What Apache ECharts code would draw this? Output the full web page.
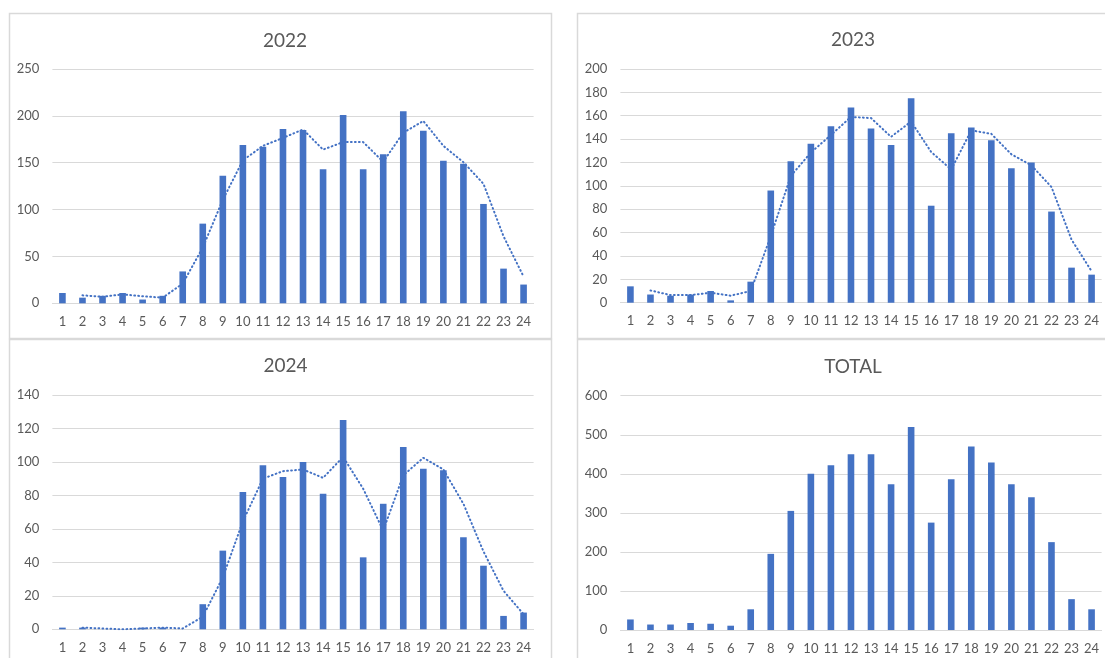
<!DOCTYPE html>
<html>
<head>
<meta charset="utf-8">
<script src="https://cdn.jsdelivr.net/npm/echarts@6/dist/echarts.min.js"></script>
<style>
html,body{margin:0;padding:0;background:#fff;}
#c{width:1105px;height:658px;}
</style>
</head>
<body>
<div id="c"></div>
<script>
const hours = ['1','2','3','4','5','6','7','8','9','10','11','12','13','14','15','16','17','18','19','20','21','22','23','24'];

const bars2022 = [11,6,8,11,4,8,34,85,136,169,167,186,185,143,201,143,159,205,184,152,149,106,37,20];
const trend2022 = [null,8.5,7,9.5,7.5,6,21,59.5,110.5,152.5,168,176.5,185.5,164,172,172,151,182,194.5,168,150.5,127.5,71.5,28.5];

const bars2023 = [14,7,6,7,10,2,18,96,121,136,151,167,149,135,175,83,145,150,139,115,120,78,30,24];
const trend2023 = [null,10.5,6.5,6.5,8.5,6,10,57,108.5,128.5,143.5,159,158,142,155,129,114,147.5,144.5,127,117.5,99,54,27];

const bars2024 = [1,1,0,0,1,1,0,15,47,82,98,91,100,81,125,43,75,109,96,95,55,38,8,10];
const trend2024 = [null,1,0.5,0,0.5,1,0.5,7.5,31,64.5,90,94.5,95.5,90.5,103,84,59,92,102.5,95.5,75,46.5,23,9];

const barsTotal = [27,14,14,18,16,11,53,195,305,400,422,450,450,373,520,275,386,470,429,373,340,225,79,53];

const titles = ['2022','2023','2024','TOTAL'];
const yMax = [250,200,140,600];
const yStep = [50,20,20,100];

const BLUE = '#4472C4';
const GRID = '#D9D9D9';
const TXT = '#595959';
const FONT = 'Lato, "Open Sans", sans-serif';

const grids = [
  {left:52.4, top:69, width:481.2, height:234.3},
  {left:620.4, top:69, width:481.2, height:233.7},
  {left:52.4, top:395, width:481.2, height:234.3},
  {left:620.4, top:395.7, width:481.2, height:234.3}
];
const titlePos = [[280,26],[848,25.5],[280.5,351.5],[848,352]];
const panels = [[9.5,13.5],[577.5,13.5],[9.5,339.5],[577.5,339.5]];

const dotted = {color:BLUE, width:2, type:[0.8,3.2], cap:'round'};

const chart = echarts.init(document.getElementById('c'));
const option = {
  backgroundColor:'#fff',
  animation:false,
  title: titles.map((t,i)=>({
    text:t, left:titlePos[i][0], top:titlePos[i][1], textAlign:'center',
    textStyle:{color:TXT, fontFamily:FONT, fontSize:19, fontWeight:'normal'}
  })),
  graphic: panels.map(p=>({
    type:'rect', shape:{x:p[0], y:p[1], width:542, height:325},
    style:{fill:'none', stroke:GRID, lineWidth:1.5}, z:-1, silent:true
  })),
  grid: grids,
  xAxis: grids.map((g,i)=>({
    type:'category', gridIndex:i, data:hours,
    axisTick:{show:false},
    axisLine:{lineStyle:{color:GRID, width:1}},
    axisLabel:{color:TXT, fontFamily:FONT, fontSize:13, margin:12, interval:0}
  })),
  yAxis: grids.map((g,i)=>({
    type:'value', gridIndex:i, min:0, max:yMax[i], interval:yStep[i],
    axisLine:{show:false}, axisTick:{show:false},
    splitLine:{lineStyle:{color:GRID, width:1}},
    axisLabel:{color:TXT, fontFamily:FONT, fontSize:13, margin:13}
  })),
  series: [
    {type:'bar', xAxisIndex:0, yAxisIndex:0, data:bars2022, barWidth:'33%', itemStyle:{color:BLUE}},
    {type:'line', xAxisIndex:0, yAxisIndex:0, data:trend2022, showSymbol:false, smooth:false, lineStyle:dotted},
    {type:'bar', xAxisIndex:1, yAxisIndex:1, data:bars2023, barWidth:'33%', itemStyle:{color:BLUE}},
    {type:'line', xAxisIndex:1, yAxisIndex:1, data:trend2023, showSymbol:false, smooth:false, lineStyle:dotted},
    {type:'bar', xAxisIndex:2, yAxisIndex:2, data:bars2024, barWidth:'33%', itemStyle:{color:BLUE}},
    {type:'line', xAxisIndex:2, yAxisIndex:2, data:trend2024, showSymbol:false, smooth:false, lineStyle:dotted},
    {type:'bar', xAxisIndex:3, yAxisIndex:3, data:barsTotal, barWidth:'33%', itemStyle:{color:BLUE}}
  ]
};
chart.setOption(option);
</script>
</body>
</html>
